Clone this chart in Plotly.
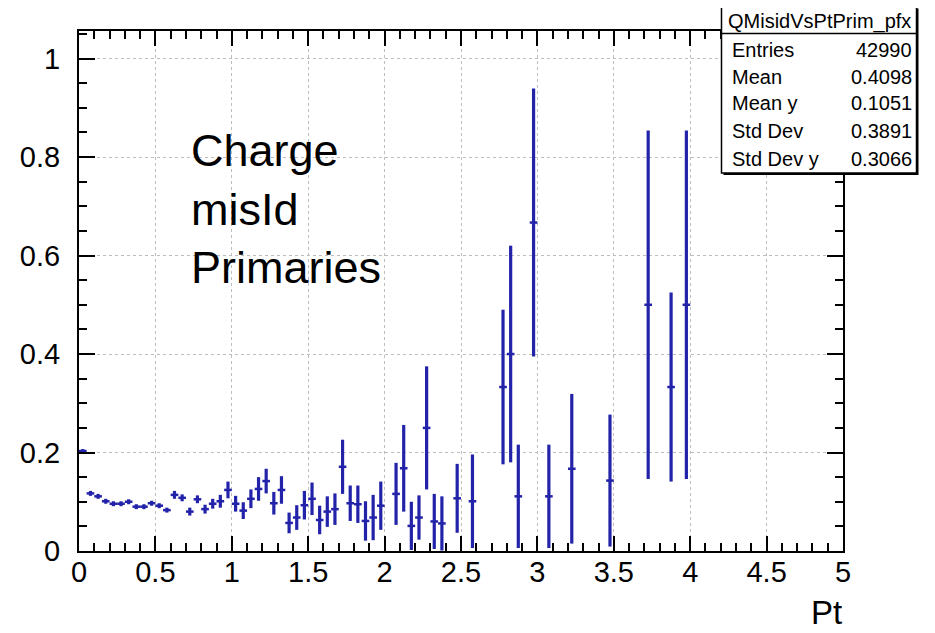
import plotly.graph_objects as go

# ---------------- data ----------------
pt = [0.025, 0.075, 0.125, 0.175, 0.225, 0.275, 0.325, 0.375, 0.425, 0.475,
      0.525, 0.575, 0.625, 0.675, 0.725, 0.775, 0.825, 0.875, 0.925, 0.975,
      1.025, 1.075, 1.125, 1.175, 1.225, 1.275, 1.325, 1.375, 1.425, 1.475,
      1.525, 1.575, 1.625, 1.675, 1.725, 1.775, 1.825, 1.875, 1.925, 1.975,
      2.075, 2.125, 2.175, 2.225, 2.275, 2.325, 2.375, 2.475, 2.575,
      2.775, 2.825, 2.875, 2.975, 3.075, 3.225, 3.475, 3.725, 3.875, 3.975]

misid = [0.203, 0.117, 0.111, 0.101, 0.096, 0.096, 0.100, 0.090, 0.090, 0.097,
         0.092, 0.083, 0.114, 0.108, 0.080, 0.105, 0.085, 0.096, 0.101, 0.124,
         0.096, 0.082, 0.106, 0.126, 0.142, 0.097, 0.124, 0.057, 0.068, 0.093,
         0.106, 0.063, 0.080, 0.085, 0.171, 0.097, 0.095, 0.061, 0.068, 0.092,
         0.116, 0.168, 0.051, 0.068, 0.250, 0.060, 0.056, 0.107, 0.101,
         0.333, 0.400, 0.111, 0.667, 0.111, 0.167, 0.143, 0.500, 0.333, 0.500]

misid_err = [0.004, 0.005, 0.005, 0.005, 0.005, 0.005, 0.005, 0.005, 0.005, 0.005,
             0.005, 0.005, 0.008, 0.007, 0.008, 0.008, 0.009, 0.010, 0.013, 0.017,
             0.016, 0.017, 0.019, 0.024, 0.025, 0.023, 0.028, 0.021, 0.025, 0.029,
             0.033, 0.029, 0.031, 0.032, 0.055, 0.036, 0.038, 0.040, 0.046, 0.049,
             0.063, 0.088, 0.049, 0.045, 0.125, 0.056, 0.055, 0.070, 0.095,
             0.157, 0.220, 0.105, 0.272, 0.105, 0.152, 0.134, 0.354, 0.192, 0.354]

half_bin_width = 0.025

x_tickvals = [0, 0.5, 1, 1.5, 2, 2.5, 3, 3.5, 4, 4.5, 5]
x_ticktext = ["0", "0.5", "1", "1.5", "2", "2.5", "3", "3.5", "4", "4.5", "5"]
y_tickvals = [0, 0.2, 0.4, 0.6, 0.8, 1.0]
y_ticktext = ["0", "0.2", "0.4", "0.6", "0.8", "1"]

stats_title = "QMisidVsPtPrim_pfx"
stats_names = ["Entries", "Mean", "Mean y", "Std Dev", "Std Dev y"]
stats_values = ["42990", "0.4098", "0.1051", "0.3891", "0.3066"]

label_lines = ["Charge", "misId", "Primaries"]
x_title = "Pt"

# ---------------- figure ----------------
blue = "#2323aa"
FONT = "Liberation Sans, Arial, Helvetica, sans-serif"

# page body has an 8px default margin; figure is placed at (8, 8)
OFF = 8
W, H = 935 - OFF, 633 - OFF
# plot frame in window pixels: x 79..843, y 31..551
L, T = 79 - OFF, 31 - OFF
R = W - (843 - OFF)
B = H - (551 - OFF)
pw, ph = W - L - R, H - T - B

fig = go.Figure()
fig.add_trace(go.Scatter(
    x=pt, y=misid, mode="markers",
    marker=dict(size=2, color=blue),
    error_x=dict(type="data", array=[half_bin_width] * len(pt), width=0,
                 thickness=2.5, color=blue),
    error_y=dict(type="data", array=misid_err, width=0, thickness=3.2, color=blue),
    showlegend=False, hoverinfo="x+y",
))

axis_common = dict(
    showline=True, linecolor="black", linewidth=2, mirror="allticks",
    ticks="inside", tickcolor="black", tickwidth=2,
    showgrid=True, gridcolor="#bdbdbd", griddash="dot", gridwidth=1,
    zeroline=False,
    tickfont=dict(family=FONT, size=29, color="black"),
)

fig.update_xaxes(
    range=[0, 5], tickvals=x_tickvals, ticktext=x_ticktext, ticklen=15,
    minor=dict(dtick=0.1, ticklen=8, ticks="inside", tickcolor="black",
               tickwidth=2, showgrid=False),
    ticklabelstandoff=-6,
    **axis_common,
)
fig.update_yaxes(
    range=[0, 1.056], tickvals=y_tickvals, ticktext=y_ticktext, ticklen=16,
    minor=dict(dtick=0.05, ticklen=8, ticks="inside", tickcolor="black",
               tickwidth=2, showgrid=False),
    ticklabelstandoff=11,
    **axis_common,
)


def px_x(px):
    return (px - OFF - L) / pw


def px_y(py):
    return (H - B - (py - OFF)) / ph


shapes = []
# stats box shadow + box + separator
shapes.append(dict(type="rect", xref="paper", yref="paper", layer="above",
                   x0=px_x(723.5), x1=px_x(918.5), y0=px_y(175), y1=px_y(8.5),
                   line=dict(width=0), fillcolor="black"))
shapes.append(dict(type="rect", xref="paper", yref="paper", layer="above",
                   x0=px_x(721.5), x1=px_x(916.5), y0=px_y(173), y1=px_y(6.5),
                   line=dict(color="black", width=1.5), fillcolor="white"))
shapes.append(dict(type="line", xref="paper", yref="paper", layer="above",
                   x0=px_x(721.5), x1=px_x(916.5), y0=px_y(33.5), y1=px_y(33.5),
                   line=dict(color="black", width=1.5)))

annotations = []
annotations.append(dict(text=stats_title, xref="paper", yref="paper",
                        x=px_x(819), y=px_y(21), xanchor="center", yanchor="middle",
                        showarrow=False, font=dict(family=FONT, size=20, color="black")))
row_y = [50.5, 77, 103.5, 131.5, 158.5]
for name, val, ry in zip(stats_names, stats_values, row_y):
    annotations.append(dict(text=name, xref="paper", yref="paper",
                            x=px_x(730), y=px_y(ry), xanchor="left", yanchor="middle",
                            showarrow=False, font=dict(family=FONT, size=20, color="black")))
    annotations.append(dict(text=val, xref="paper", yref="paper",
                            x=px_x(914), y=px_y(ry), xanchor="right", yanchor="middle",
                            showarrow=False, font=dict(family=FONT, size=20, color="black")))

line_y = [150, 209, 267]
for txt, ly in zip(label_lines, line_y):
    annotations.append(dict(text=txt, xref="paper", yref="paper",
                            x=px_x(189), y=px_y(ly), xanchor="left", yanchor="middle",
                            showarrow=False, font=dict(family=FONT, size=45, color="black")))

annotations.append(dict(text=x_title, xref="paper", yref="paper",
                        x=px_x(844), y=px_y(612), xanchor="right", yanchor="middle",
                        showarrow=False, font=dict(family=FONT, size=33, color="black")))

fig.update_layout(
    width=W, height=H,
    margin=dict(l=L, r=R, t=T, b=B, autoexpand=False),
    paper_bgcolor="white", plot_bgcolor="white",
    shapes=shapes, annotations=annotations,
)

fig.write_html("out.html")
